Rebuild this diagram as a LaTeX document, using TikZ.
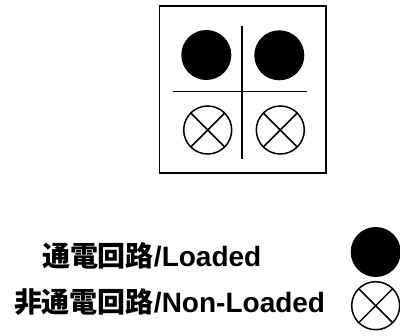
\documentclass[tikz,border=0pt]{standalone}
\usepackage{fontspec}
\setmainfont{Liberation Sans}[BoldFont={Liberation Sans Bold}]
\newfontfamily\cjkfont{Noto Sans CJK JP Bold}
\newcommand{\cjkb}[1]{{\cjkfont #1}}
\tikzset{
  lampon/.style={circle,fill=black,draw=none,minimum size=50pt,inner sep=0pt,outer sep=0pt},
  lampoff/.style={circle,draw=black,line width=1.5pt,fill=white,minimum size=48pt,inner sep=0pt,outer sep=0pt,
    path picture={\draw[line width=1.5pt] (path picture bounding box.north west)--(path picture bounding box.south east)
      (path picture bounding box.north east)--(path picture bounding box.south west);}},
  rule/.style={line width=1.6pt,black},
  frame/.style={draw=black,line width=1.6pt,fill=white,inner sep=0pt,outer sep=0pt},
  legend/.style={inner sep=0pt,outer sep=0pt,font=\fontsize{28}{28}\selectfont\bfseries,anchor=base west,text=black}
}
\begin{document}
\begin{tikzpicture}[x=1pt,y=-1pt]
\useasboundingbox (0,0) rectangle (400,336);
\node[frame,minimum width=166.5pt,minimum height=167pt] (panel) at (242.7,89.5) {};
\coordinate (vtop) at (242,25.7);
\coordinate (vbot) at (242,159);
\coordinate (hleft) at (172.7,91.7);
\coordinate (hright) at (306.7,91.7);
\draw[rule] (vtop) -- (vbot);
\draw[rule] (hleft) -- (hright);
\node[lampon] (a) at (206.3,55) {};
\node[lampon] (b) at (279.3,55.3) {};
\node[lampoff] (c) at (207.7,130) {};
\node[lampoff] (d) at (280.3,130) {};
\node[lampon] (e) at (375.7,252) {};
\node[lampoff] (f) at (375.7,305.7) {};
\node[legend] (t1) at (42,266.5) {\cjkb{通電回路}/Loaded};
\node[legend] (t2) at (14,312.5) {\cjkb{非通電回路}/Non-Loaded};
\end{tikzpicture}
\end{document}
